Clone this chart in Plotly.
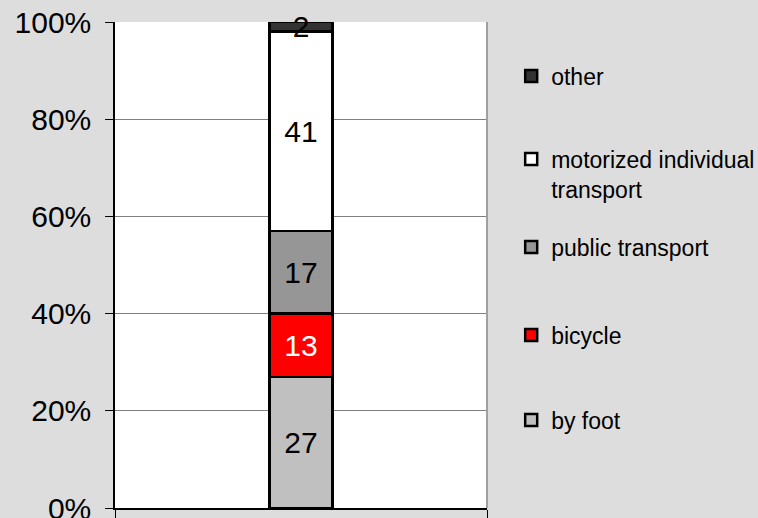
import plotly.graph_objects as go

categories = ["modal split"]
series_names = ["by foot", "bicycle", "public transport", "motorized individual<br>transport", "other"]
series_values = [27, 13, 17, 41, 2]
series_colors = ["#c0c0c0", "#ff0000", "#969696", "#ffffff", "#333333"]
label_colors = ["black", "white", "black", "black", "black"]
y_ticks = [0, 20, 40, 60, 80, 100]
y_tick_labels = ["0%", "20%", "40%", "60%", "80%", "100%"]

# vertical centre of each legend entry (paper fraction), same order as series
legend_y = [0.181, 0.356, 0.537, 0.687, 0.889]

FONT = "Liberation Sans, Arial, sans-serif"

fig = go.Figure()
legend_layouts = {}
for i, (name, val, col, lc) in enumerate(zip(series_names, series_values, series_colors, label_colors)):
    key = "legend" if i == 0 else f"legend{i + 1}"
    fig.add_trace(go.Bar(
        x=categories, y=[val], name=name,
        marker=dict(color=col, line=dict(color="black", width=2.5)),
        width=0.17,
        text=[str(val)], textposition="inside", insidetextanchor="middle",
        constraintext="none", cliponaxis=False, textangle=0,
        textfont=dict(family=FONT, size=30, color=lc),
        legend=key,
        hoverinfo="skip",
    ))
    legend_layouts[key] = dict(
        x=1.065, xanchor="left", y=legend_y[i], yanchor="middle",
        valign="top",
        font=dict(family=FONT, size=23, color="black"),
        bgcolor="rgba(0,0,0,0)",
        itemclick=False, itemdoubleclick=False,
    )

fig.update_layout(
    width=758, height=518,
    autosize=False,
    barmode="stack",
    paper_bgcolor="#dddddd",
    plot_bgcolor="#ffffff",
    margin=dict(l=115, r=271, t=22, b=10, autoexpand=False),
    font=dict(family=FONT, color="black"),
    showlegend=True,
    xaxis=dict(
        showticklabels=False, ticks="outside", ticklen=8, tickcolor="black",
        tickson="boundaries", showline=True, linecolor="black", linewidth=1.5,
        showgrid=False, zeroline=False, range=[-0.5, 0.5], automargin=False,
    ),
    yaxis=dict(
        range=[0, 100], tickvals=y_ticks, ticktext=y_tick_labels,
        tickfont=dict(family=FONT, size=30, color="black"),
        ticks="outside", ticklen=8, tickcolor="black",
        showline=True, linecolor="black", linewidth=1.5,
        showgrid=True, gridcolor="#808080", gridwidth=1,
        zeroline=False, ticklabelstandoff=8, automargin=False,
        ticklabeloverflow="allow",
    ),
    shapes=[dict(type="line", xref="paper", yref="paper", x0=1, x1=1, y0=0, y1=1,
                 line=dict(color="#a0a0a0", width=2))],
    **legend_layouts,
)

fig.write_html(
    "out.html",
    config={"responsive": False, "displayModeBar": False},
    post_script="document.body.style.margin='0';document.body.style.overflow='hidden';",
)
